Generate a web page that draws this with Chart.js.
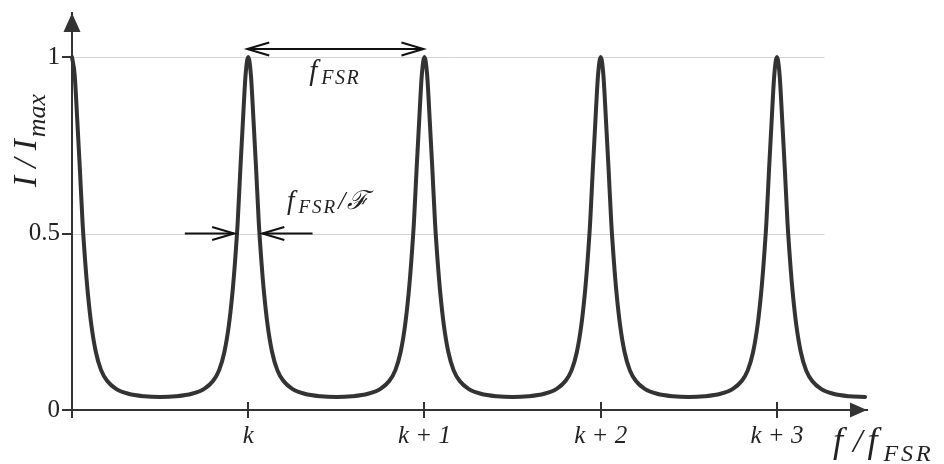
<!DOCTYPE html>
<html>
<head>
<meta charset="utf-8">
<title>Airy distribution</title>
<script src="https://cdn.jsdelivr.net/npm/chart.js"></script>
<style>
  html, body { margin: 0; padding: 0; background: #fff; }
  #wrap { width: 944px; height: 464px; }
</style>
</head>
<body>
<div id="wrap"><canvas id="chart" width="944" height="464"></canvas></div>
<script>
// f / f_FSR, counted from the first peak (k-1)
const freq = [
  0, 0.015, 0.03, 0.045, 0.06, 0.075, 0.09, 0.11, 0.135, 0.165, 0.2, 0.25, 0.32, 0.41, 0.5,
  0.59, 0.68, 0.75, 0.8, 0.835, 0.865, 0.89, 0.91, 0.925, 0.94, 0.955, 0.97, 0.985, 1,
  1.015, 1.03, 1.045, 1.06, 1.075, 1.09, 1.11, 1.135, 1.165, 1.2, 1.25, 1.32, 1.41, 1.5,
  1.59, 1.68, 1.75, 1.8, 1.835, 1.865, 1.89, 1.91, 1.925, 1.94, 1.955, 1.97, 1.985, 2,
  2.015, 2.03, 2.045, 2.06, 2.075, 2.09, 2.11, 2.135, 2.165, 2.2, 2.25, 2.32, 2.41, 2.5,
  2.59, 2.68, 2.75, 2.8, 2.835, 2.865, 2.89, 2.91, 2.925, 2.94, 2.955, 2.97, 2.985, 3,
  3.015, 3.03, 3.045, 3.06, 3.075, 3.09, 3.11, 3.135, 3.165, 3.2, 3.25, 3.32, 3.41, 3.5,
  3.59, 3.68, 3.75, 3.8, 3.835, 3.865, 3.89, 3.91, 3.925, 3.94, 3.955, 3.97, 3.985, 4,
  4.015, 4.03, 4.045, 4.06, 4.075, 4.09, 4.11, 4.135, 4.165, 4.2, 4.25, 4.32, 4.41, 4.5
];
// I / I_max at those points
const intensity = [
  1, 0.95, 0.82, 0.68, 0.53, 0.42, 0.33, 0.24, 0.165, 0.113, 0.082, 0.06, 0.046, 0.039, 0.037,
  0.039, 0.046, 0.06, 0.082, 0.113, 0.165, 0.24, 0.33, 0.42, 0.53, 0.68, 0.82, 0.95, 1,
  0.95, 0.82, 0.68, 0.53, 0.42, 0.33, 0.24, 0.165, 0.113, 0.082, 0.06, 0.046, 0.039, 0.037,
  0.039, 0.046, 0.06, 0.082, 0.113, 0.165, 0.24, 0.33, 0.42, 0.53, 0.68, 0.82, 0.95, 1,
  0.95, 0.82, 0.68, 0.53, 0.42, 0.33, 0.24, 0.165, 0.113, 0.082, 0.06, 0.046, 0.039, 0.037,
  0.039, 0.046, 0.06, 0.082, 0.113, 0.165, 0.24, 0.33, 0.42, 0.53, 0.68, 0.82, 0.95, 1,
  0.95, 0.82, 0.68, 0.53, 0.42, 0.33, 0.24, 0.165, 0.113, 0.082, 0.06, 0.046, 0.039, 0.037,
  0.039, 0.046, 0.06, 0.082, 0.113, 0.165, 0.24, 0.33, 0.42, 0.53, 0.68, 0.82, 0.95, 1,
  0.95, 0.82, 0.68, 0.53, 0.42, 0.33, 0.24, 0.165, 0.113, 0.082, 0.06, 0.046, 0.039, 0.037
];
const xTickValues = [0, 1, 2, 3, 4];
const xTickLabels = ['', 'k', 'k + 1', 'k + 2', 'k + 3'];
const yTickValues = [0, 0.5, 1];
const yTickLabels = ['0', '0.5', '1'];
const gridValues = [0.5, 1];

const ink = '#333';
const textInk = '#222';
const serif = "'Liberation Serif', 'DejaVu Serif', serif";

// draws text pieces one glyph at a time so spacing can be widened
function drawRuns(ctx, x, y, runs) {
  for (const r of runs) {
    ctx.font = r.font;
    for (const ch of r.text) {
      ctx.fillText(ch, x, y + (r.dy || 0));
      x += ctx.measureText(ch).width + (r.sp || 0);
    }
    x += r.after || 0;
  }
}

function chevron(ctx, tx, ty, dir) {
  ctx.beginPath();
  ctx.moveTo(tx - dir * 22, ty - 6.5);
  ctx.lineTo(tx, ty);
  ctx.lineTo(tx - dir * 22, ty + 6.5);
  ctx.stroke();
}

function segment(ctx, x1, y1, x2, y2) {
  ctx.beginPath();
  ctx.moveTo(x1, y1);
  ctx.lineTo(x2, y2);
  ctx.stroke();
}

const extras = {
  id: 'extras',
  beforeDatasetsDraw(chart) {
    const { ctx, scales: { x, y } } = chart;
    ctx.save();
    ctx.strokeStyle = '#d4d4d4';
    ctx.lineWidth = 1;
    gridValues.forEach(v => {
      const py = Math.round(y.getPixelForValue(v)) + 0.5;
      segment(ctx, x.getPixelForValue(0) + 1, py, x.getPixelForValue(4.27), py);
    });
    ctx.restore();
  },
  afterDraw(chart) {
    const { ctx, chartArea: a, scales: { x, y } } = chart;
    ctx.save();
    ctx.fillStyle = ink;
    ctx.strokeStyle = ink;
    ctx.lineWidth = 2;

    // tick marks cross the x axis
    xTickValues.slice(1).forEach(v => {
      const px = Math.round(x.getPixelForValue(v));
      segment(ctx, px, a.bottom, px, a.bottom - 8);
    });

    // axis arrow heads
    ctx.beginPath();
    ctx.moveTo(a.left, a.top);
    ctx.lineTo(a.left - 8.5, a.top + 19);
    ctx.lineTo(a.left + 8.5, a.top + 19);
    ctx.closePath();
    ctx.fill();
    ctx.beginPath();
    ctx.moveTo(a.right, a.bottom);
    ctx.lineTo(a.right - 17, a.bottom - 7.5);
    ctx.lineTo(a.right - 17, a.bottom + 7.5);
    ctx.closePath();
    ctx.fill();

    // free spectral range arrow
    ctx.strokeStyle = '#111';
    const yTop = y.getPixelForValue(1.023);
    const xa = x.getPixelForValue(1) - 1;
    const xb = x.getPixelForValue(2) - 1;
    segment(ctx, xa, yTop, xb, yTop);
    chevron(ctx, xa, yTop, -1);
    chevron(ctx, xb, yTop, 1);

    // linewidth arrows at half maximum
    const yHalf = y.getPixelForValue(0.5);
    const l = x.getPixelForValue(1 - 0.08);
    const r = x.getPixelForValue(1 + 0.08);
    segment(ctx, x.getPixelForValue(1 - 0.36), yHalf, l, yHalf);
    chevron(ctx, l, yHalf, 1);
    segment(ctx, x.getPixelForValue(1 + 0.365), yHalf, r, yHalf);
    chevron(ctx, r, yHalf, -1);

    ctx.fillStyle = textInk;
    ctx.textBaseline = 'alphabetic';
    ctx.textAlign = 'left';

    drawRuns(ctx, xa + 62, yTop + 31, [
      { text: 'f', font: `italic 29px ${serif}`, after: 4 },
      { text: 'FSR', font: `italic 20px ${serif}`, dy: 4, sp: 1.5 }
    ]);

    drawRuns(ctx, x.getPixelForValue(1.22), yHalf - 25, [
      { text: 'f', font: `italic 27px ${serif}`, after: 4 },
      { text: 'FSR', font: `italic 19px ${serif}`, dy: 4, sp: 2, after: 1 },
      { text: '/', font: `italic 26px ${serif}`, after: 2 },
      { text: 'ℱ', font: `italic 26px ${serif}` }
    ]);

    // axis titles
    drawRuns(ctx, 833, 452, [
      { text: 'f', font: `italic 36px ${serif}`, after: 10 },
      { text: '/', font: `italic 34px ${serif}`, after: 5 },
      { text: 'f', font: `italic 36px ${serif}`, after: 6 },
      { text: 'FSR', font: `italic 24px ${serif}`, dy: 9, sp: 3 }
    ]);

    ctx.translate(36, 187);
    ctx.rotate(-Math.PI / 2);
    drawRuns(ctx, 0, 0, [
      { text: 'I / I', font: `italic 33px ${serif}`, after: 2 },
      { text: 'max', font: `italic 26px ${serif}`, dy: 9 }
    ]);
    ctx.restore();
  }
};

const points = freq.map((f, i) => ({ x: f, y: intensity[i] }));

new Chart(document.getElementById('chart'), {
  type: 'line',
  data: {
    datasets: [{
      data: points,
      borderColor: ink,
      borderWidth: 4,
      pointRadius: 0,
      fill: false,
      clip: false,
      cubicInterpolationMode: 'monotone',
      borderCapStyle: 'round',
      borderJoinStyle: 'round'
    }]
  },
  options: {
    responsive: false,
    animation: false,
    devicePixelRatio: 1,
    layout: { padding: { top: 13, right: 77, bottom: 0, left: 0 } },
    plugins: { legend: { display: false }, tooltip: { enabled: false } },
    scales: {
      x: {
        type: 'linear',
        min: 0,
        max: 4.511,
        afterFit: s => { s.height = 54; s.paddingLeft = 0; s.paddingRight = 0; },
        afterBuildTicks: s => { s.ticks = xTickValues.map(v => ({ value: v })); },
        ticks: {
          autoSkip: false,
          maxRotation: 0,
          padding: 3,
          color: textInk,
          font: { family: serif, size: 25, style: 'italic' },
          callback: (v, i) => xTickLabels[i]
        },
        grid: { drawOnChartArea: false, drawTicks: true, tickLength: 8, color: ink, lineWidth: 2 },
        border: { display: true, color: ink, width: 2 }
      },
      y: {
        type: 'linear',
        min: 0,
        max: 1.125,
        afterFit: s => { s.width = 72; s.paddingTop = 0; s.paddingBottom = 0; },
        afterBuildTicks: s => { s.ticks = yTickValues.map(v => ({ value: v })); },
        ticks: {
          autoSkip: false,
          padding: 2,
          color: textInk,
          font: { family: serif, size: 25 },
          callback: (v, i) => yTickLabels[i]
        },
        grid: { drawOnChartArea: false, drawTicks: true, tickLength: 10, color: ink, lineWidth: 2 },
        border: { display: true, color: ink, width: 2 }
      }
    }
  },
  plugins: [extras]
});
</script>
</body>
</html>
